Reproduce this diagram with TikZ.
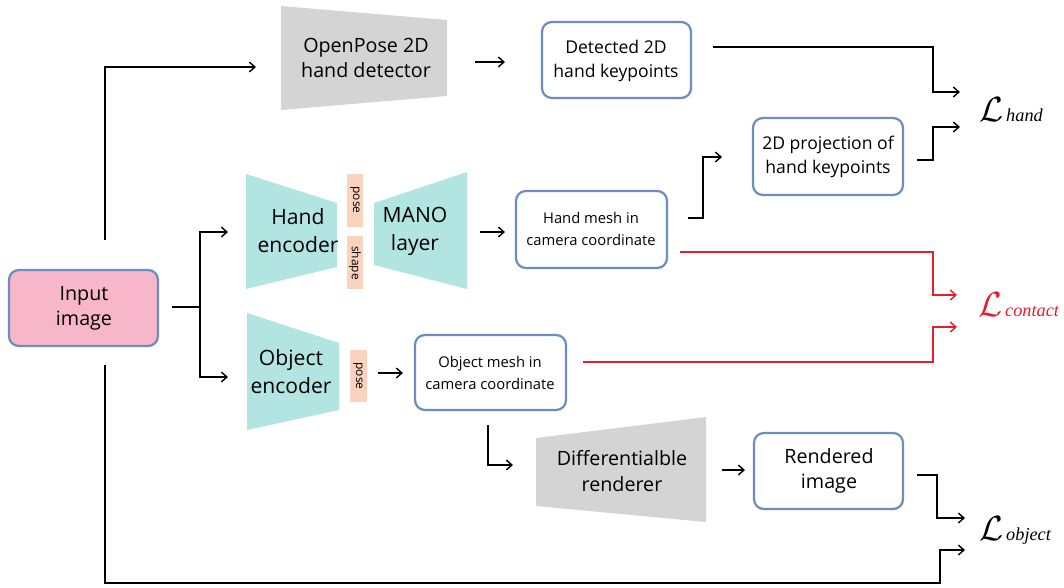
\documentclass[tikz,border=0pt]{standalone}
\usepackage{fontspec}
\setmainfont{Open Sans}
\newfontfamily\lossfont{Liberation Serif}
\usetikzlibrary{arrows.meta}
\definecolor{boxblue}{RGB}{108,142,191}
\definecolor{pinkfill}{RGB}{248,182,202}
\definecolor{tealfill}{RGB}{178,228,226}
\definecolor{grayfill}{RGB}{212,212,212}
\definecolor{salmon}{RGB}{250,210,190}
\definecolor{lossred}{RGB}{230,30,40}
\tikzset{
  rframe/.style={draw=boxblue,line width=1.6pt,rounded corners=7pt},
  lbl/.style={align=center,font=\fontsize{14}{18}\selectfont},
  conn/.style={line width=1pt,-{Straight Barb[length=4pt,width=7pt]}},
  plain/.style={line width=1pt},
  redconn/.style={conn,draw=lossred},
  tagtxt/.style={rotate=-90,font=\fontsize{8.5}{9}\selectfont},
  loss/.style={inner sep=0pt,anchor=base west}
}
\newcommand{\lossterm}[1]{{\fontsize{23}{23}\selectfont$\mathcal{L}$}\kern2pt{\lossfont\itshape\fontsize{13}{13}\selectfont #1}}
\begin{document}
\begin{tikzpicture}[x=0.025cm,y=-0.025cm]
\useasboundingbox (0,0) rectangle (1064,587);
% trapezoids
\fill[grayfill] (281,6) -- (447,20) -- (447,96) -- (281,110) -- cycle;
\node[lbl] (openpose) at (366,58) {OpenPose 2D\\hand detector};
\fill[tealfill] (246,174) -- (337,203) -- (337,267) -- (246,289) -- cycle;
\node[lbl,font=\fontsize{15}{20}\selectfont] (henc) at (298,231) {Hand\\encoder};
\fill[tealfill] (374,203) -- (467,172) -- (467,289) -- (374,265) -- cycle;
\node[lbl,font=\fontsize{15}{20}\selectfont] (mano) at (415,231) {MANO\\layer};
\fill[tealfill] (247,313) -- (339,343) -- (339,410) -- (247,430) -- cycle;
\node[lbl,font=\fontsize{15}{20}\selectfont] (oenc) at (291,372) {Object\\encoder};
\fill[grayfill] (536,438) -- (706,417) -- (706,522) -- (536,506) -- cycle;
\node[lbl] (render) at (622,471) {Differentialble\\renderer};
% tags
\fill[salmon] (347,174) rectangle (363,227);
\node[tagtxt] (pose1) at (355,200) {pose};
\fill[salmon] (347,236) rectangle (363,289);
\node[tagtxt] (shape1) at (355,263) {shape};
\fill[salmon] (350,350) rectangle (367,402);
\node[tagtxt] (pose2) at (358,376) {pose};
% boxes
\draw[rframe,fill=pinkfill] (9,270) rectangle (158,346);
\node[lbl] (inputtxt) at (84,308) {Input\\image};
\draw[rframe] (542,22) rectangle (691,98);
\node[lbl,font=\fontsize{12.5}{17}\selectfont] (det) at (616,61) {Detected 2D\\hand keypoints};
\draw[rframe] (753,118) rectangle (903,195);
\node[lbl,font=\fontsize{12.5}{17}\selectfont] (proj) at (828,157) {2D projection of\\hand keypoints};
\draw[rframe] (516,191) rectangle (667,268);
\node[lbl,font=\fontsize{10.5}{16}\selectfont] (hmesh) at (591,229) {Hand mesh in\\camera coordinate};
\draw[rframe] (415,335) rectangle (566,410);
\node[lbl,font=\fontsize{10.5}{16}\selectfont] (omesh) at (490,373) {Object mesh in\\camera coordinate};
\draw[rframe] (754,433) rectangle (903,509);
\node[lbl] (rimg) at (829,471) {Rendered\\image};
% losses
\node[loss] (lhand) at (979,121) {\lossterm{hand}};
\node[loss,text=lossred] (lcontact) at (978,316) {\lossterm{contact}};
\node[loss] (lobject) at (979,540) {\lossterm{object}};
% coordinates
\coordinate (inR) at (172,307);
\coordinate (inT) at (105,240);
\coordinate (inB) at (105,365);
% connectors
\draw[conn] (inT) -- (105,67) -- (256,67);
\draw[plain] (inR) -- (200,307);
\draw[conn] (200,307) |- (228,232);
\draw[conn] (200,307) |- (228,377);
\draw[conn] (475,62) -- (505,62);
\draw[conn] (480,232) -- (505,232);
\draw[conn] (378,373) -- (403,373);
\draw[conn] (713,47) -- (933,47) -- (933,92) -- (960,92);
\draw[conn] (917,160) -- (933,160) -- (933,127) -- (960,127);
\draw[conn] (688,218) -- (703,218) -- (703,157) -- (722,157);
\draw[redconn] (680,252) -- (933,252) -- (933,295) -- (957,295);
\draw[redconn] (583,362) -- (933,362) -- (933,327) -- (957,327);
\draw[conn] (488,425) -- (488,465) -- (513,465);
\draw[conn] (722,470) -- (745,470);
\draw[conn] (917,475) -- (937,475) -- (937,518) -- (965,518);
\draw[conn] (inB) -- (105,583) -- (940,583) -- (940,550) -- (965,550);
\end{tikzpicture}
\end{document}
